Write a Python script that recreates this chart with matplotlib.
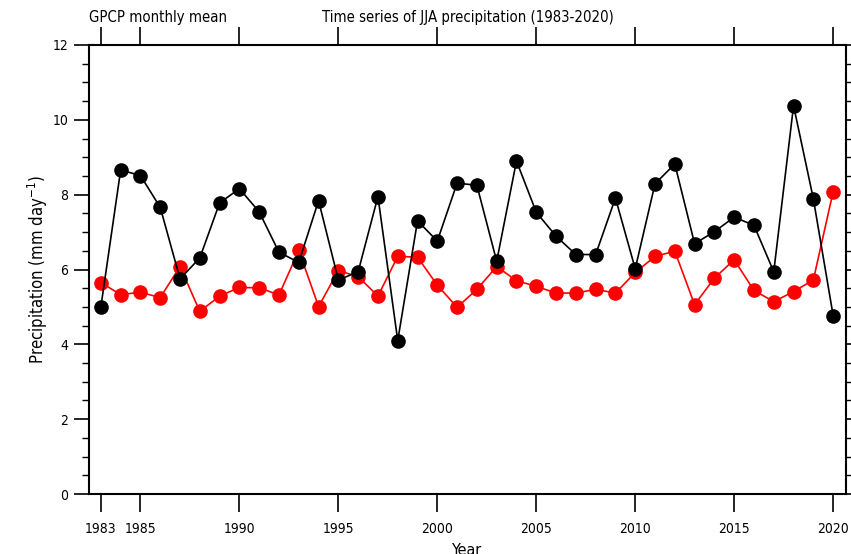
import numpy as np
import matplotlib.pyplot as plt

plt.rcParams['font.family'] = ['DejaVu Sans']
plt.rcParams['font.stretch'] = 'condensed'

years = np.arange(1983, 2021)

# black series
prec_black = [5.00, 8.66, 8.51, 7.66, 5.75, 6.31, 7.78, 8.16, 7.54, 6.46,
              6.19, 7.84, 5.72, 5.94, 7.95, 4.10, 7.30, 6.76, 8.31, 8.25,
              6.22, 8.90, 7.53, 6.89, 6.40, 6.40, 7.91, 6.02, 8.29, 8.82,
              6.69, 7.01, 7.40, 7.18, 5.94, 10.38, 7.89, 4.77]

# red series
prec_red = [5.65, 5.33, 5.39, 5.25, 6.08, 4.88, 5.29, 5.52, 5.51, 5.32,
            6.51, 5.01, 5.97, 5.81, 5.29, 6.35, 6.33, 5.58, 4.99, 5.47,
            6.08, 5.70, 5.55, 5.37, 5.37, 5.47, 5.37, 5.92, 6.35, 6.49,
            5.06, 5.77, 6.26, 5.44, 5.14, 5.41, 5.72, 8.08]

xticks = [1983, 1985, 1990, 1995, 2000, 2005, 2010, 2015, 2020]

fig = plt.figure(figsize=(8.51, 5.54), dpi=100)
ax = fig.add_axes([89/851, 1-494/554, (846-89)/851, (494-45)/554])

ax.plot(years, prec_red, color='red', lw=1.2, marker='o', ms=9.5, zorder=2)
ax.plot(years, prec_black, color='black', lw=1.2, marker='o', ms=9.5, zorder=3)

ax.set_xlim(1982.4, 2020.65)
ax.set_ylim(0, 12)
ax.set_xticks(xticks)
ax.set_yticks(np.arange(0, 13, 2))
ax.set_yticks(np.arange(0, 12.01, 0.5), minor=True)

ax.tick_params(axis='both', which='major', direction='out', length=11, width=1.2,
               labelsize=10, top=True, right=True)
ax.tick_params(axis='y', which='minor', direction='out', length=5, width=1.0,
               left=True, right=True)
ax.tick_params(axis='x', which='major', pad=7, length=13)
ax.tick_params(axis='y', which='major', pad=4)
for s in ax.spines.values():
    s.set_linewidth(1.5)

ax.set_xlabel('Year', fontsize=11.5, labelpad=5)
ax.set_ylabel('Precipitation (mm day$^{-1}$)', fontsize=12, labelpad=2)
ax.set_title('GPCP monthly mean', loc='left', fontsize=10.7, pad=16.5)
ax.set_title('Time series of JJA precipitation (1983-2020)', loc='center', fontsize=10.7, pad=16.5)

fig.savefig('out.png', dpi=100)
